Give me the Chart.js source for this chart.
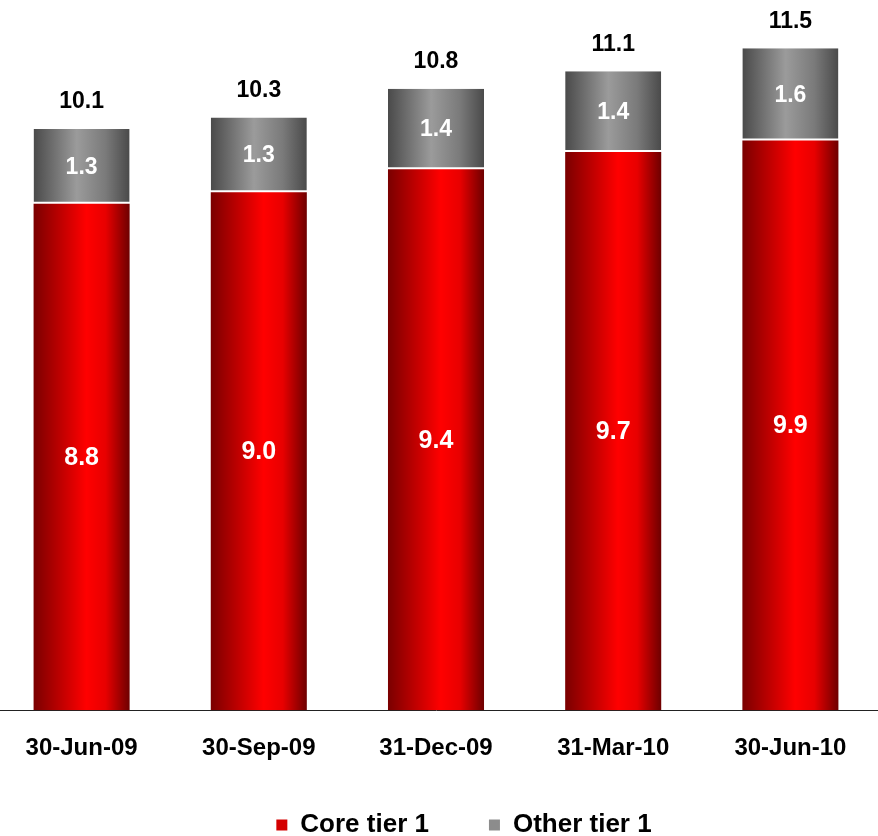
<!DOCTYPE html>
<html>
<head>
<meta charset="utf-8">
<script src="https://cdn.jsdelivr.net/npm/chart.js@4/dist/chart.umd.min.js"></script>
<style>
  html, body { margin: 0; background: #fff; overflow: hidden; }
  /* a little wider and taller than the window so the plot fills it edge to edge */
  #wrap { position: absolute; left: -7px; top: 0; width: 886px; height: 883px; }
</style>
</head>
<body>
<div id="wrap"><canvas id="thechart"></canvas></div>
<script>
// chart data
var theDates = ['30-Jun-09', '30-Sep-09', '31-Dec-09', '31-Mar-10', '30-Jun-10'];
var coreTier1 = [8.8, 9.0, 9.4, 9.7, 9.9];
var otherTier1 = [1.3, 1.3, 1.4, 1.4, 1.6];
var theTotals = [10.1, 10.3, 10.8, 11.1, 11.5];
var seriesNames = ['Core tier 1', 'Other tier 1'];
var legendColours = ['#d40000', '#8c8c8c'];

var fontName = '"Liberation Sans", Arial, sans-serif';
var barFrac = 0.542;

// horizontal shading across each bar, like the original
function shadeBar(ctx, stops, flat) {
  var chart = ctx.chart;
  if (ctx.type !== 'data' || !chart.chartArea || !chart.scales.x) return flat;
  var xs = chart.scales.x;
  var cx = xs.getPixelForValue(ctx.dataIndex);
  var w = xs.width / theDates.length * barFrac;
  var g = chart.ctx.createLinearGradient(cx - w / 2, 0, cx + w / 2, 0);
  for (var i = 0; i < stops.length; i++) {
    g.addColorStop(stops[i][0], stops[i][1]);
  }
  return g;
}

var redStops = [[0, '#7a0000'], [0.55, '#ff0000'], [0.75, '#e80000'], [1, '#6e0000']];
var greyStops = [[0, '#4a4a4a'], [0.45, '#9b9b9b'], [0.75, '#7a7a7a'], [1, '#4a4a4a']];

// writes the numbers inside the bars and the totals on top
var valueLabels = {
  id: 'valueLabels',
  afterDatasetsDraw: function(chart) {
    var c = chart.ctx;
    c.save();
    c.textAlign = 'center';
    c.textBaseline = 'middle';
    chart.data.datasets.forEach(function(ds, d) {
      var meta = chart.getDatasetMeta(d);
      meta.data.forEach(function(bar, i) {
        c.fillStyle = '#ffffff';
        c.font = 'bold ' + (d === 0 ? 25 : 23) + 'px ' + fontName;
        c.fillText(ds.data[i].toFixed(1), bar.x, (bar.y + bar.base) / 2 + 1);
        if (d === chart.data.datasets.length - 1) {
          c.fillStyle = '#000000';
          c.font = 'bold 23px ' + fontName;
          c.fillText(theTotals[i].toFixed(1), bar.x, bar.y - 27);
        }
      });
    });
    c.restore();
  }
};

// the legend in the original sits a bit right of centre and close to the axis labels
var legendNudge = {
  id: 'legendNudge',
  afterLayout: function(chart) {
    chart.legend.left += 28;
    chart.legend.right += 28;
    chart.legend.top -= 35;
    chart.legend.bottom -= 35;
  }
};

var data = {
  labels: theDates,
  datasets: [
    {
      label: seriesNames[0],
      data: coreTier1,
      backgroundColor: function(ctx) { return shadeBar(ctx, redStops, legendColours[0]); },
      borderWidth: 0
    },
    {
      label: seriesNames[1],
      data: otherTier1,
      backgroundColor: function(ctx) { return shadeBar(ctx, greyStops, legendColours[1]); },
      borderColor: '#ffffff',
      borderWidth: { bottom: 2 },
      borderSkipped: false
    }
  ]
};

var theChart = new Chart(document.getElementById('thechart').getContext('2d'), {
  type: 'bar',
  data: data,
  plugins: [valueLabels, legendNudge],
  options: {
    responsive: true,
    maintainAspectRatio: false,
    animation: false,
    layout: { padding: 0 },
    datasets: { bar: { categoryPercentage: 1, barPercentage: barFrac } },
    scales: {
      x: {
        stacked: true,
        grid: { display: false, drawTicks: false },
        border: { display: true, color: '#222222', width: 1 },
        ticks: { color: '#000000', padding: 24, font: { family: fontName, size: 24, weight: 'bold' } }
      },
      y: {
        stacked: true,
        display: false,
        min: 0,
        max: 12.34
      }
    },
    plugins: {
      legend: {
        position: 'bottom',
        labels: {
          boxWidth: 11,
          boxHeight: 11,
          padding: 60,
          color: '#000000',
          font: { family: fontName, size: 26, weight: 'bold' },
          generateLabels: function(chart) {
            var items = Chart.defaults.plugins.legend.labels.generateLabels(chart);
            items.forEach(function(item, i) {
              item.fillStyle = legendColours[i];
              item.strokeStyle = legendColours[i];
              item.lineWidth = 0;
            });
            return items;
          }
        }
      },
      tooltip: { enabled: false }
    }
  }
});
</script>
</body>
</html>
